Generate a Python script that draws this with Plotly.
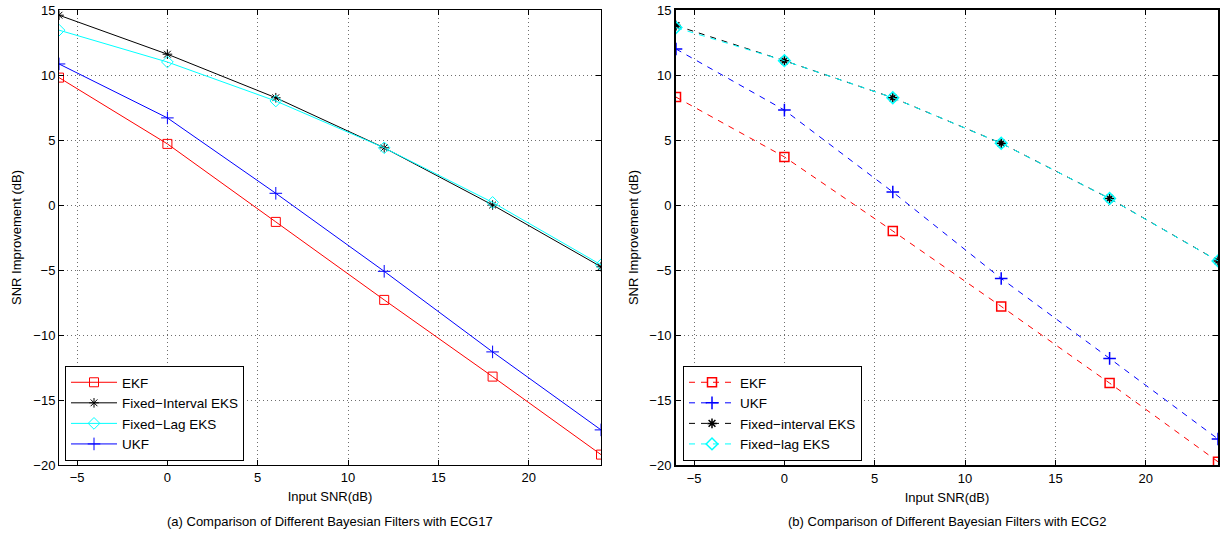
import plotly.graph_objects as go

snr = [-6, 0, 6, 12, 18, 24]

# (a) ECG17
a_ekf = [9.8, 4.7, -1.3, -7.3, -13.2, -19.2]
a_fi_eks = [14.6, 11.6, 8.25, 4.4, 0.0, -4.75]
a_fl_eks = [13.45, 11.0, 8.0, 4.4, 0.2, -4.6]
a_ukf = [10.85, 6.7, 0.9, -5.1, -11.3, -17.3]

# (b) ECG2
b_ekf = [8.3, 3.7, -2.0, -7.8, -13.7, -19.75]
b_ukf = [12.0, 7.3, 1.0, -5.65, -11.8, -18.0]
b_fi_eks = [13.8, 11.1, 8.25, 4.75, 0.5, -4.3]
b_fl_eks = [13.65, 11.1, 8.25, 4.75, 0.5, -4.3]

xticks = [-5, 0, 5, 10, 15, 20]
yticks = [-20, -15, -10, -5, 0, 5, 10, 15]

FONT = "Liberation Sans, Arial, Helvetica, sans-serif"
W, H = 1227, 540

fig = go.Figure()

def add(x, y, name, color, symbol, size, dash, xa, ya, legend, mlw=1):
    fig.add_trace(go.Scatter(
        x=x, y=y, name=name, mode="lines+markers",
        line=dict(color=color, width=1, dash=dash),
        marker=dict(symbol=symbol, size=size, color=color,
                    line=dict(color=color, width=mlw)),
        xaxis=xa, yaxis=ya, legend=legend))

solid = "solid"
dsh = "6px,6px"
add(snr, a_ekf, "EKF", "#FF0000", "square-open", 9, solid, "x", "y", "legend")
add(snr, a_fi_eks, "Fixed\u2212Interval EKS", "#000000", "asterisk-open", 8, solid, "x", "y", "legend")
add(snr, a_fl_eks, "Fixed\u2212Lag EKS", "#00FFFF", "diamond-open", 9, solid, "x", "y", "legend")
add(snr, a_ukf, "UKF", "#0000FF", "cross-thin-open", 9, solid, "x", "y", "legend")

add(snr, b_ekf, "EKF", "#FF0000", "square-open", 9, dsh, "x2", "y2", "legend2", 1.5)
add(snr, b_ukf, "UKF", "#0000FF", "cross-thin-open", 9, dsh, "x2", "y2", "legend2", 1.5)
add(snr, b_fi_eks, "Fixed\u2212interval EKS", "#000000", "asterisk-open", 8, dsh, "x2", "y2", "legend2", 1.5)
add(snr, b_fl_eks, "Fixed\u2212lag EKS", "#00FFFF", "diamond-open", 9, dsh, "x2", "y2", "legend2", 1.5)

ytop, ybot = 10, 465
ydom = [1 - ybot / H, 1 - ytop / H]
GRID = dict(showgrid=True, gridcolor="#6e6e6e", griddash="1px,3px", gridwidth=1)

def xaxis(dom, lw):
    return dict(domain=dom, range=[-6, 24], tickvals=xticks, automargin=False,
                zeroline=False, showline=True, linecolor="black", linewidth=lw,
                mirror="allticks", ticks="inside", ticklen=5, tickcolor="black",
                tickfont=dict(size=13, color="black"),
                title=dict(text="Input SNR(dB)", font=dict(size=13, color="black"), standoff=8),
                **GRID)

def yaxis(anchor, lw):
    return dict(domain=ydom, range=[-20, 15], tickvals=yticks, anchor=anchor, automargin=False,
                zeroline=False, showline=True, linecolor="black", linewidth=lw,
                mirror="allticks", ticks="inside", ticklen=5, tickcolor="black",
                tickfont=dict(size=13, color="black"),
                title=dict(text="SNR Improvement (dB)", font=dict(size=13, color="black"), standoff=8),
                **GRID)

fig.update_layout(
    width=W, height=H,
    margin=dict(l=0, r=0, t=0, b=0, autoexpand=False),
    paper_bgcolor="white", plot_bgcolor="white",
    font=dict(family=FONT, size=13, color="black"),
    xaxis=xaxis([59 / W, 601 / W], 1),
    yaxis=yaxis("x", 1),
    xaxis2=xaxis([676 / W, 1218 / W], 2),
    yaxis2=yaxis("x2", 2),
    legend=dict(x=65 / W, y=1 - 461 / H, xanchor="left", yanchor="bottom",
                bgcolor="white", bordercolor="black", borderwidth=1, itemwidth=46,
                font=dict(size=13.5, family=FONT), tracegroupgap=0),
    legend2=dict(x=683 / W, y=1 - 461 / H, xanchor="left", yanchor="bottom",
                 bgcolor="white", bordercolor="black", borderwidth=1, itemwidth=46,
                 font=dict(size=13.5, family=FONT), tracegroupgap=0),
    annotations=[
        dict(text="(a) Comparison of Different Bayesian Filters with ECG17",
             x=330 / W, y=1 - 521 / H, xref="paper", yref="paper", xanchor="center",
             showarrow=False, font=dict(size=13, color="black"), yanchor="middle"),
        dict(text="(b) Comparison of Different Bayesian Filters with ECG2",
             x=947 / W, y=1 - 521 / H, xref="paper", yref="paper", xanchor="center",
             showarrow=False, font=dict(size=13, color="black"), yanchor="middle"),
    ],
)

fig.write_html("out.html")
